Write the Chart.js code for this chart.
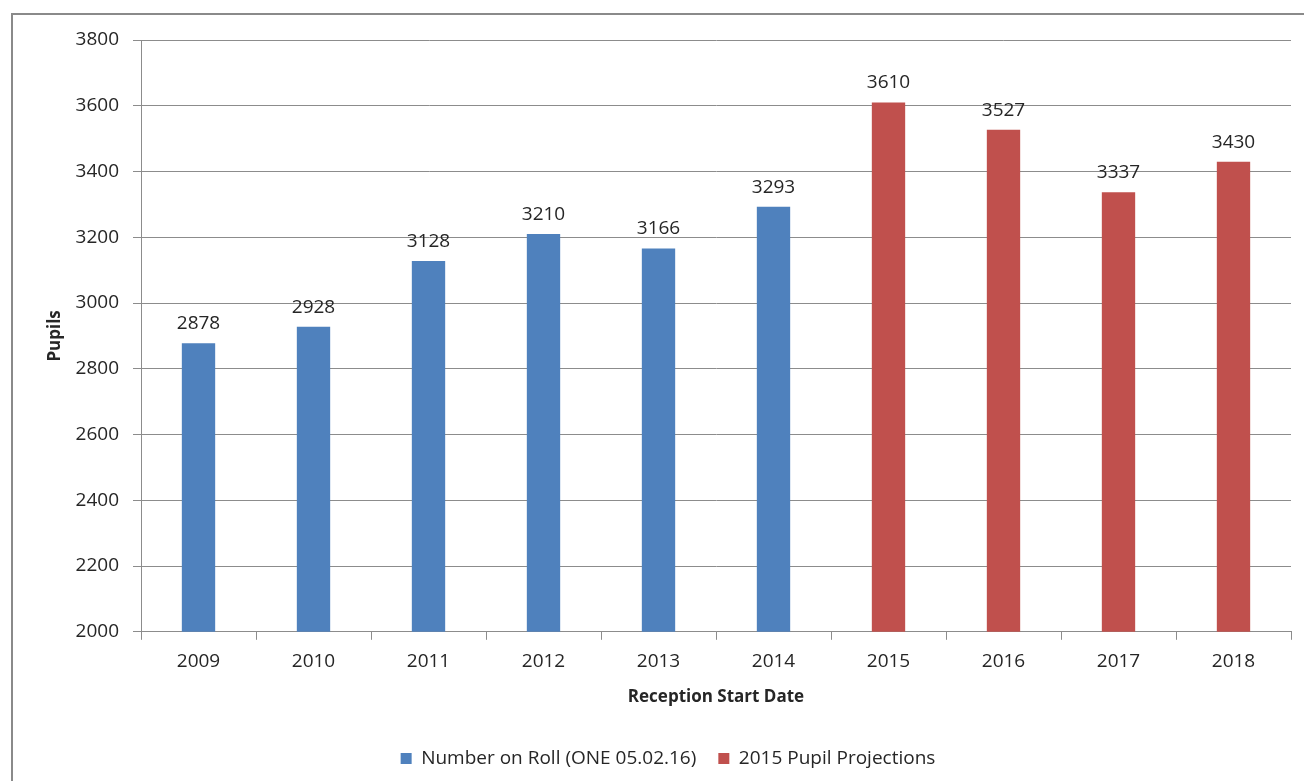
<!DOCTYPE html>
<html>
<head>
<meta charset="utf-8">
<script src="https://cdn.jsdelivr.net/npm/chart.js@4/dist/chart.umd.min.js"></script>
<style>
  html, body { margin: 0; padding: 0; background: #fff; }
  #wrap { width: 1304px; height: 781px; }
</style>
</head>
<body>
<div id="wrap"><canvas id="chart" width="1304" height="781"></canvas></div>
<script>
// Reception start years
const years = ["2009", "2010", "2011", "2012", "2013", "2014", "2015", "2016", "2017", "2018"];
// Actual numbers on roll (blue)
const onRoll = [2878, 2928, 3128, 3210, 3166, 3293, null, null, null, null];
// Projections (red)
const projections = [null, null, null, null, null, null, 3610, 3527, 3337, 3430];
const yMin = 2000;
const yMax = 3800;
const yStep = 200;

const FONT = "'Open Sans', sans-serif";
const TEXT = "#262626";
const GRID = "#8c8c8c";

// draws the number above each bar
const barLabels = {
  id: "barLabels",
  afterDatasetsDraw(chart) {
    const ctx = chart.ctx;
    ctx.save();
    ctx.font = "19px " + FONT;
    ctx.fillStyle = TEXT;
    ctx.textAlign = "center";
    ctx.textBaseline = "bottom";
    chart.data.datasets.forEach((ds, i) => {
      const meta = chart.getDatasetMeta(i);
      meta.data.forEach((bar, j) => {
        if (ds.data[j] == null) return;
        ctx.fillText(ds.data[j], bar.x, bar.y - 10);
      });
    });
    ctx.restore();
  },
};

// grey frame on the left and top like the original export
const frame = {
  id: "frame",
  beforeDraw(chart) {
    const ctx = chart.ctx;
    ctx.save();
    ctx.fillStyle = "#fff";
    ctx.fillRect(0, 0, chart.width, chart.height);
    ctx.strokeStyle = "#8a8a8a";
    ctx.lineWidth = 2;
    ctx.beginPath();
    ctx.moveTo(12, chart.height);
    ctx.lineTo(12, 14);
    ctx.lineTo(chart.width, 14);
    ctx.stroke();
    ctx.restore();
  },
};

new Chart(document.getElementById("chart"), {
  type: "bar",
  data: {
    labels: years,
    datasets: [
      {
        label: "Number on Roll (ONE 05.02.16)",
        data: onRoll,
        backgroundColor: "#4f81bd",
        grouped: false,
      },
      {
        label: "2015 Pupil Projections",
        data: projections,
        backgroundColor: "#c0504d",
        grouped: false,
      },
    ],
  },
  options: {
    responsive: false,
    animation: false,
    layout: { padding: { left: 45, right: 13, top: 40, bottom: 3 } },
    datasets: {
      bar: { barPercentage: 0.29, categoryPercentage: 1 },
    },
    plugins: {
      legend: {
        position: "bottom",
        labels: {
          font: { family: FONT, size: 19 },
          color: TEXT,
          boxWidth: 11,
          boxHeight: 11,
          padding: 22,
        },
      },
      tooltip: { enabled: false },
    },
    scales: {
      x: {
        grid: {
          drawOnChartArea: false,
          drawTicks: true,
          tickLength: 8,
          color: GRID,
        },
        border: { color: GRID },
        ticks: { font: { family: FONT, size: 19 }, color: TEXT, padding: 10 },
        title: {
          display: true,
          text: "Reception Start Date",
          font: { family: FONT, size: 17, weight: "bold" },
          color: TEXT,
          padding: { top: 4, bottom: 20 },
        },
      },
      y: {
        min: yMin,
        max: yMax,
        afterFit: (scale) => { scale.width = 96; },
        grid: { color: GRID, tickLength: 8 },
        border: { color: GRID },
        ticks: {
          stepSize: yStep,
          font: { family: FONT, size: 19 },
          color: TEXT,
          padding: 14,
          callback: (v) => String(v),
        },
        title: {
          display: true,
          text: "Pupils",
          font: { family: FONT, size: 17, weight: "bold" },
          color: TEXT,
          padding: { top: 0, bottom: 8 },
        },
      },
    },
  },
  plugins: [frame, barLabels],
});
</script>
</body>
</html>
